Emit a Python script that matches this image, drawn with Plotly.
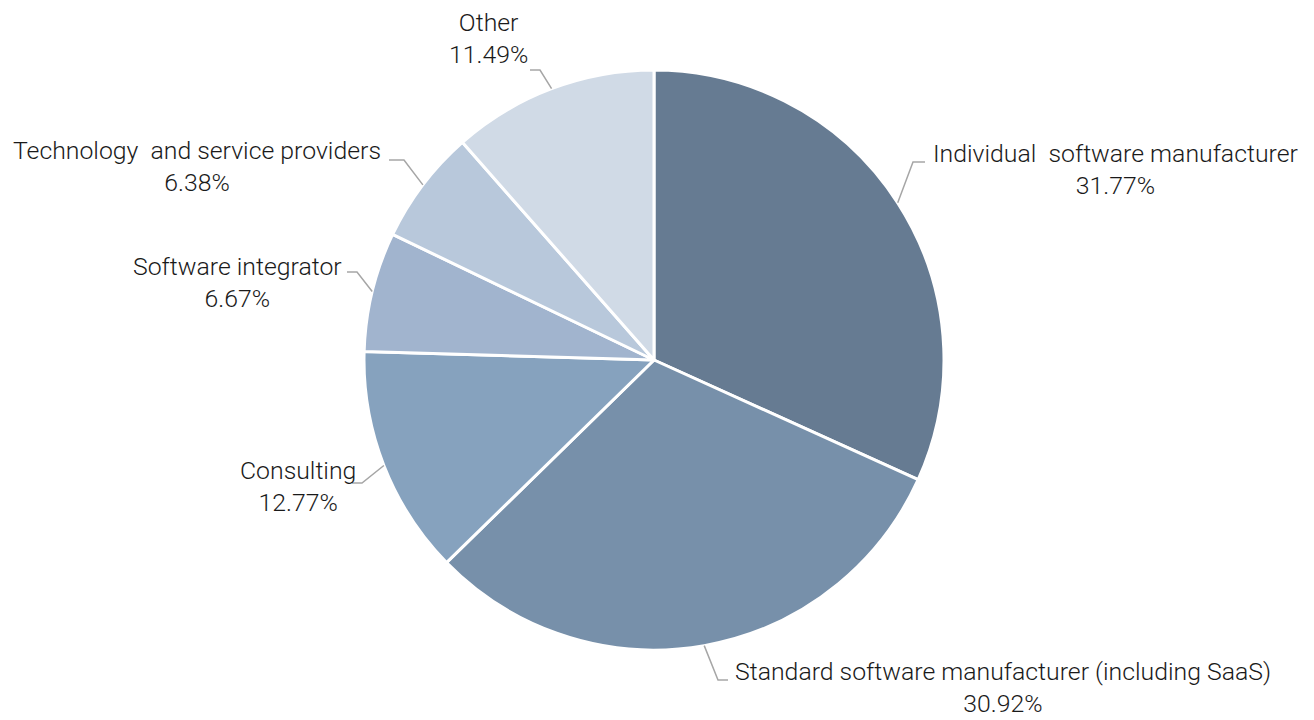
import math
import plotly.graph_objects as go

# ---- data ----
categories = [
    "Individual  software manufacturer",
    "Standard software manufacturer (including SaaS)",
    "Consulting",
    "Software integrator",
    "Technology  and service providers",
    "Other",
]
values = [31.77, 30.92, 12.77, 6.67, 6.38, 11.49]
colors = ["#667b92", "#7790aa", "#86a2be", "#a1b4ce", "#b8c8db", "#d0dae6"]

# ---- layout (page pixels; page body has an 8px margin) ----
OFF = 8
W, H = 1314 - OFF, 720 - OFF
CX, CY, R = 654, 360, 290
# label anchor: (x, y-centre of block, xanchor), elbow (x,y), end x of leader
label_layout = [
    (931, 169, "left", (913, 162), 925),
    (733, 687, "left", (718, 680), 728),
    (358, 487, "right", (362, 483), 352),
    (344, 282, "right", (357, 272), 347),
    (383, 167, "right", (404, 160), 389),
    (488, 38, "center", (540, 70), 530),
]

def px(x):
    return (x - OFF) / W

def py(y):
    return 1 - (y - OFF) / H

fig = go.Figure(go.Pie(
    labels=categories,
    values=values,
    sort=False,
    direction="clockwise",
    rotation=0,
    marker=dict(colors=colors, line=dict(color="white", width=3)),
    textinfo="none",
    hoverinfo="label+percent",
    showlegend=False,
    domain=dict(x=[px(CX - R), px(CX + R)], y=[py(CY + R), py(CY - R)]),
))

total = sum(values)
cum = 0.0
annotations = []
shapes = []
for cat, v, lay in zip(categories, values, label_layout):
    mid = (cum + v / 2) / total * 2 * math.pi
    cum += v
    sx = CX + R * math.sin(mid)
    sy = CY - R * math.cos(mid)
    lx, ly, xa, (ex, ey), endx = lay
    shapes.append(dict(
        type="path", xref="paper", yref="paper",
        path=f"M {px(sx)} {py(sy)} L {px(ex)} {py(ey)} L {px(endx)} {py(ey)}",
        line=dict(color="#a6a6a6", width=1.5),
    ))
    annotations.append(dict(
        x=px(lx), y=py(ly), xref="paper", yref="paper",
        xanchor=xa, yanchor="middle", align="center",
        text=f"{cat}<br>{v:.2f}%", showarrow=False,
        font=dict(family="Roboto", size=24.8, weight=300, color="#1a1a1a"),
    ))

fig.update_layout(
    width=W, height=H,
    margin=dict(l=0, r=0, t=0, b=0),
    paper_bgcolor="white",
    plot_bgcolor="white",
    annotations=annotations,
    shapes=shapes,
)

fig.write_html("out.html")
